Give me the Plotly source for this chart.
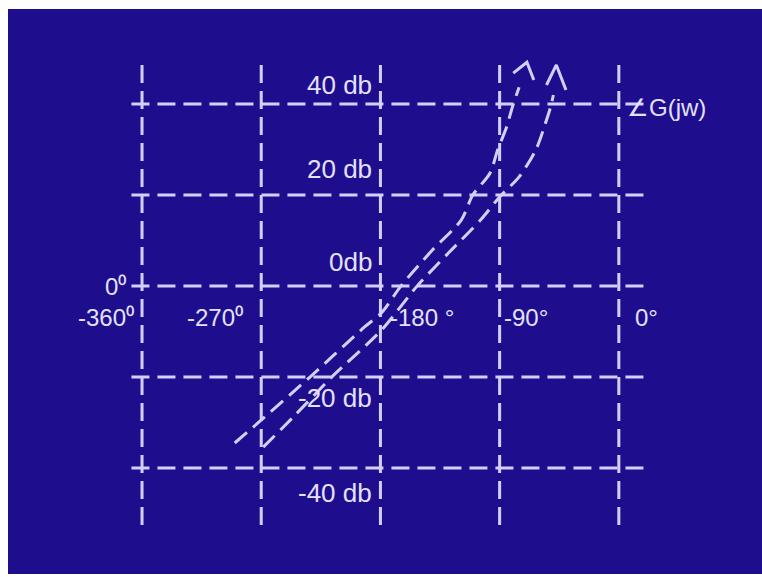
import plotly.graph_objects as go

# Nichols-chart grid: phase (deg) and gain (dB)
phase_grid = [-360, -270, -180, -90, 0]
gain_grid = [40, 20, 0, -20, -40]
gain_labels = ["40 db", "20 db", "0db", "-20 db", "-40 db"]
phase_labels = ["-360⁰", "-270⁰", "-180 °", "-90°", "0°"]

# Two gain-phase loci
locus_a_phase = [-290, -272.5, -233.2, -192, -179.3, -164, -140.8, -119, -110.3, -97.3, -91.5, -84.8, -80.4, -75.3]
locus_a_gain = [-34.5, -30.1, -20, -9.0, -5.9, 0.2, 7.9, 14.5, 20, 24.8, 29.9, 34.9, 39.3, 43.7]
locus_b_phase = [-268.5, -244.5, -216.7, -179.3, -151.7, -128.5, -104.5, -90, -75.3, -62.7, -54.6, -51.6, -49.4]
locus_b_gain = [-35.4, -28.4, -20, -9.7, 0.2, 7.3, 14.5, 19.6, 24.0, 29.9, 36.5, 39.3, 42.0]

# Direction chevrons at the top of each locus
arrow_a_phase = [-79.7, -69.4, -64.2]
arrow_a_gain = [46.8, 49.2, 45.3]
arrow_b_phase = [-54.6, -47.2, -39.9]
arrow_b_gain = [44.2, 48.6, 43.1]

BG = "#1E0E8E"
LINE = "#D4CFFF"
TEXT = "#E4E1FF"
FONT = "Liberation Sans, Arial, sans-serif"

fig = go.Figure()

for ph, gn in [(locus_a_phase, locus_a_gain), (locus_b_phase, locus_b_gain)]:
    fig.add_trace(go.Scatter(
        x=ph, y=gn, mode="lines",
        line=dict(color=LINE, width=3, dash="16px,8px", shape="spline", smoothing=0.8),
        hoverinfo="skip", showlegend=False,
    ))
for ph, gn in [(arrow_a_phase, arrow_a_gain), (arrow_b_phase, arrow_b_gain)]:
    fig.add_trace(go.Scatter(
        x=ph, y=gn, mode="lines",
        line=dict(color=LINE, width=3),
        hoverinfo="skip", showlegend=False,
    ))

# dashed grid lines
for g in gain_grid:
    fig.add_shape(type="line", xref="x", yref="y", x0=-368, x1=22, y0=g, y1=g,
                  line=dict(color=LINE, width=3, dash="18px,8px"), layer="below")
for p in phase_grid:
    fig.add_shape(type="line", xref="x", yref="y", x0=p, x1=p, y0=48.6, y1=-53.6,
                  line=dict(color=LINE, width=3, dash="18px,8px"), layer="below")

# gain labels, just left of the -180 line
gain_label_y = [44.1, 25.8, 5.2, -24.7, -45.6]
for lab, gy in zip(gain_labels, gain_label_y):
    fig.add_annotation(x=-180, y=gy, text=lab, showarrow=False, xanchor="right",
                       xshift=-6, font=dict(family=FONT, size=26, color=TEXT))

# phase labels along the 0 dB line
phase_shift = [-6, -16, 8, 2, 14]
phase_anchor = ["right", "right", "left", "left", "left"]
for lab, p, sh, an in zip(phase_labels, phase_grid, phase_shift, phase_anchor):
    fig.add_annotation(x=p, y=-7.0, text=lab, showarrow=False, xanchor=an,
                       xshift=sh, font=dict(family=FONT, size=24, color=TEXT))

fig.add_annotation(x=-360, y=0, text="0⁰", showarrow=False, xanchor="right",
                   xshift=-14, font=dict(family=FONT, size=24, color=TEXT))
fig.add_annotation(x=0, y=40, text="∠G(jw)", showarrow=False, xanchor="left",
                   xshift=6, yshift=-3, font=dict(family=FONT, size=24, color=TEXT))

fig.update_layout(
    width=762, height=577,
    margin=dict(l=8, r=0, t=9, b=3),
    paper_bgcolor="white", plot_bgcolor=BG,
    xaxis=dict(range=[-461.2, 108.1], visible=False, fixedrange=True),
    yaxis=dict(range=[-63.3, 60.9], visible=False, fixedrange=True),
)

fig.write_html("out.html")
